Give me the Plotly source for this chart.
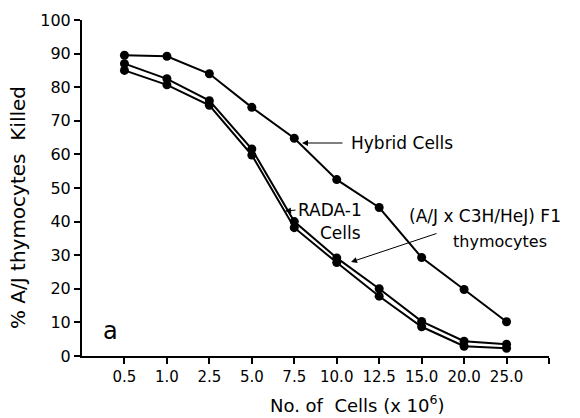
import plotly.graph_objects as go

cells = ["0.5", "1.0", "2.5", "5.0", "7.5", "10.0", "12.5", "15.0", "20.0", "25.0"]
hybrid = [89.5, 89.2, 84.0, 74.0, 64.8, 52.5, 44.2, 29.3, 19.8, 10.2]
f1_thymocytes = [87.0, 82.5, 76.0, 61.6, 40.0, 29.2, 20.0, 10.3, 4.4, 3.5]
rada1 = [85.0, 80.7, 74.6, 59.8, 38.2, 27.8, 17.8, 8.7, 2.9, 2.3]
y_ticks = [0, 10, 20, 30, 40, 50, 60, 70, 80, 90, 100]

xpos = list(range(1, len(cells) + 1))

L, R, T, B = 82, 549, 20, 356
W, H = 580, 418
XMAX = len(cells) + 1


def dx(px):
    return (px - L) / (R - L) * XMAX


def dy(py):
    return (B - py) / (B - T) * 100


def px_(px):
    return (px - L) / (R - L)


def py_(py):
    return (B - py) / (B - T)


fig = go.Figure()
for name, vals in [("Hybrid Cells", hybrid), ("(A/J x C3H/HeJ) F1 thymocytes", f1_thymocytes), ("RADA-1 Cells", rada1)]:
    fig.add_trace(go.Scatter(
        x=xpos, y=vals, mode="lines+markers", name=name,
        line=dict(color="black", width=2),
        marker=dict(color="black", size=9),
        cliponaxis=False,
    ))

font = "DejaVu Sans"
ann = []


def text(s, px, py, size=16, anchor="left", angle=0):
    ann.append(dict(x=px_(px), y=py_(py), xref="paper", yref="paper", text=s, showarrow=False,
                    xanchor=anchor, yanchor="middle", textangle=angle,
                    font=dict(family=font, size=size, color="black")))


def arrow(x0, y0, x1, y1):
    ann.append(dict(x=dx(x1), y=dy(y1), ax=dx(x0), ay=dy(y0), xref="x", yref="y", axref="x", ayref="y",
                    text="", showarrow=True, arrowhead=2, arrowsize=1.2, arrowwidth=1, arrowcolor="black"))


text("Hybrid Cells", 349, 143, size=17)
arrow(344, 143, 302, 143)
text("RADA-1", 296, 210, size=17)
text("Cells", 318, 233, size=17)
arrow(297, 210, 285, 211)
text("(A/J x C3H/HeJ) F1", 407, 216, size=17)
text("thymocytes", 451, 241, size=16)
arrow(438, 233, 351, 262)
text("a", 110, 331, size=24, anchor="center")
text("% A/J thymocytes  Killed", 18, 208, size=20, anchor="center", angle=-90)
text("No. of  Cells (x 10<sup>6</sup>)", 357, 404, size=18, anchor="center")

fig.update_layout(
    width=W, height=H,
    margin=dict(l=L, r=W - R, t=T, b=H - B, autoexpand=False),
    plot_bgcolor="white", paper_bgcolor="white",
    showlegend=False,
    annotations=ann,
    font=dict(family=font, color="black"),
)
fig.update_xaxes(
    range=[0, XMAX], tickvals=list(range(1, XMAX + 1)), ticktext=cells + [""],
    showgrid=False, zeroline=False, showline=True, linecolor="black", linewidth=2,
    ticks="outside", ticklen=6, tickwidth=2, tickcolor="black",
    tickfont=dict(family=font, size=15), automargin=False,
)
fig.update_yaxes(
    range=[0, 100], tickvals=y_ticks,
    showgrid=False, zeroline=False, showline=True, linecolor="black", linewidth=2,
    ticks="outside", ticklen=6, tickwidth=2, tickcolor="black",
    tickfont=dict(family=font, size=16), automargin=False,
)

fig.write_html("out.html", config=dict(displayModeBar=False),
               post_script="document.body.style.margin='0';document.body.style.overflow='hidden';")
